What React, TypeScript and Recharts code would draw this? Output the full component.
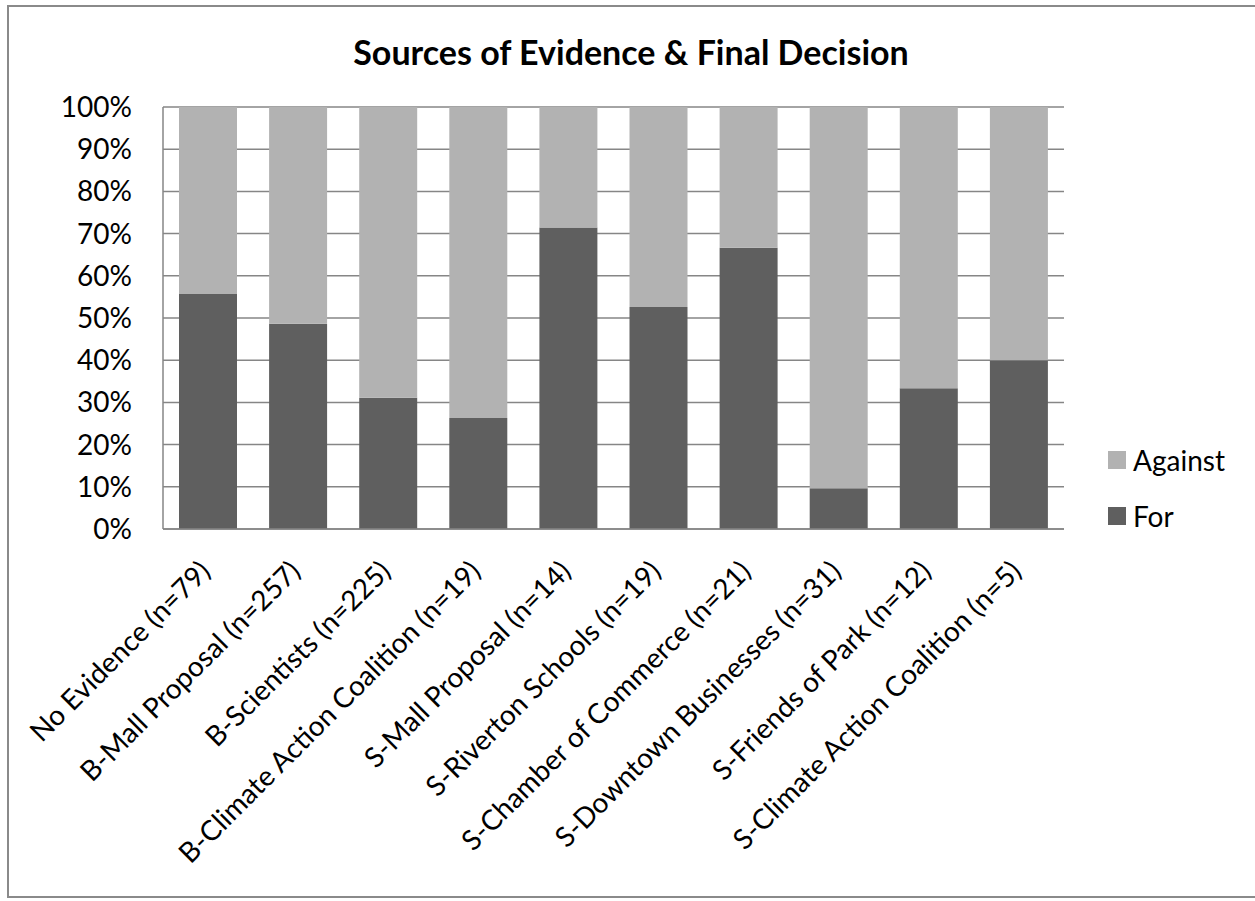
import React from 'react';
import { BarChart, Bar, XAxis, YAxis, CartesianGrid } from 'recharts';

// Sources of evidence used by participants, with counts for each final decision
const categories = [
  'No Evidence (n=79)',
  'B-Mall Proposal (n=257)',
  'B-Scientists (n=225)',
  'B-Climate Action Coalition (n=19)',
  'S-Mall Proposal (n=14)',
  'S-Riverton Schools (n=19)',
  'S-Chamber of Commerce (n=21)',
  'S-Downtown Businesses (n=31)',
  'S-Friends of Park (n=12)',
  'S-Climate Action Coalition (n=5)',
];
const forCounts = [44, 125, 70, 5, 10, 10, 14, 3, 4, 2];
const againstCounts = [35, 132, 155, 14, 4, 9, 7, 28, 8, 3];
const yTicks = [0, 0.1, 0.2, 0.3, 0.4, 0.5, 0.6, 0.7, 0.8, 0.9, 1];

const data = categories.map((name, i) => ({
  name,
  For: forCounts[i],
  Against: againstCounts[i],
}));

const FONT = 'Lato, "Open Sans", sans-serif';
const LABEL_SIZE = 28;
const FOR_COLOR = '#5f5f5f';
const AGAINST_COLOR = '#b2b2b2';
const GRID_COLOR = '#868686';

const RotatedTick = (props: any) => {
  const { x, y, payload } = props;
  const px = x + 4;
  const py = y + 44;
  return (
    <text
      x={px}
      y={py}
      textAnchor="end"
      transform={`rotate(-45, ${px}, ${py})`}
      fontFamily={FONT}
      fontSize={LABEL_SIZE}
      fill="#000"
    >
      {payload.value}
    </text>
  );
};

// Legend lists the top segment first, as the stack reads from top to bottom
const legendItems = [
  { label: 'Against', color: AGAINST_COLOR },
  { label: 'For', color: FOR_COLOR },
];

export default function App() {
  return (
    <div style={{ position: 'absolute', left: 0, top: 0, width: 1255, height: 901, background: '#fff', overflow: 'hidden' }}>
      <div
        style={{
          position: 'absolute',
          left: 7,
          top: 5,
          width: 1270,
          height: 893,
          border: '2px solid #8a8a8a',
          boxSizing: 'border-box',
        }}
      />
      <div
        style={{
          position: 'absolute',
          left: 0,
          width: 1262,
          top: 30,
          textAlign: 'center',
          fontFamily: FONT,
          fontWeight: 700,
          fontSize: 34,
          lineHeight: '44px',
          color: '#000',
        }}
      >
        Sources of Evidence &amp; Final Decision
      </div>
      <BarChart
        width={1255}
        height={901}
        data={data}
        stackOffset="expand"
        barSize={58}
        margin={{ top: 107, right: 191, left: 0, bottom: 172 }}
        style={{ position: 'absolute', left: 0, top: 0 }}
      >
        <CartesianGrid vertical={false} stroke={GRID_COLOR} strokeWidth={1.5} />
        <XAxis
          dataKey="name"
          interval={0}
          height={200}
          tickLine={false}
          tickSize={0}
          tickMargin={0}
          axisLine={{ stroke: GRID_COLOR, strokeWidth: 1.5 }}
          tick={<RotatedTick />}
        />
        <YAxis
          width={163}
          domain={[0, 1]}
          ticks={yTicks}
          tickFormatter={(v: number) => `${Math.round(v * 100)}%`}
          tickLine={false}
          tickSize={6}
          tickMargin={25}
          axisLine={{ stroke: GRID_COLOR, strokeWidth: 1.5 }}
          tick={{ fontFamily: FONT, fontSize: LABEL_SIZE, fill: '#000' }}
        />
        <Bar dataKey="For" stackId="a" fill={FOR_COLOR} isAnimationActive={false} />
        <Bar dataKey="Against" stackId="a" fill={AGAINST_COLOR} isAnimationActive={false} />
      </BarChart>
      <div
        style={{
          position: 'absolute',
          left: 1108,
          top: 432,
          fontFamily: FONT,
          fontSize: LABEL_SIZE,
          color: '#000',
        }}
      >
        {legendItems.map((it) => (
          <div key={it.label} style={{ display: 'flex', alignItems: 'center', height: 56 }}>
            <div style={{ width: 18, height: 18, background: it.color, marginRight: 7 }} />
            <span style={{ lineHeight: '28px' }}>{it.label}</span>
          </div>
        ))}
      </div>
    </div>
  );
}
